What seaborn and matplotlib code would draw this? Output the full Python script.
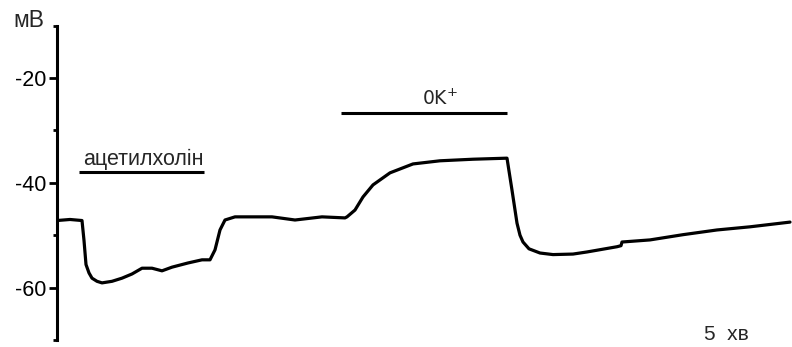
import matplotlib
matplotlib.use("Agg")
import matplotlib.pyplot as plt
import seaborn as sns
import pandas as pd
from matplotlib.ticker import MultipleLocator

# time (arbitrary units along the record) and membrane potential (mV)
time = [0, 13, 25, 27, 29, 32, 35, 40, 45, 55, 65, 75, 85, 95, 105, 115, 131,
        145, 153, 158, 163, 168, 178, 215, 238, 265, 288, 290, 298, 306, 316,
        333, 356, 383, 416, 450, 455, 460, 463, 466, 472, 483, 496, 516, 530,
        560, 564, 565, 593, 626, 660, 693, 733]
potential = [-47.2, -47.0, -47.2, -51.0, -55.6, -57.2, -58.2, -58.8, -59.1,
             -58.8, -58.2, -57.4, -56.3, -56.3, -56.8, -56.1, -55.3, -54.7,
             -54.7, -52.8, -49.0, -47.1, -46.5, -46.5, -47.1, -46.5, -46.7,
             -46.5, -45.2, -42.7, -40.4, -38.1, -36.4, -35.8, -35.5, -35.3,
             -41.4, -47.7, -50.0, -51.3, -52.6, -53.4, -53.7, -53.6, -53.2,
             -52.2, -52.0, -51.3, -50.9, -49.9, -49.0, -48.4, -47.5]

ach_label = "ацетилхолін"
ach_span = [22, 147]
ach_level = -38.0
ok_label = "0K$^{+}$"
ok_span = [284, 450]
ok_level = -26.7
y_ticks = [-20, -40, -60]

df = pd.DataFrame({"t": time, "mV": potential})

sns.set_style("ticks")
plt.rcParams["font.family"] = ["Liberation Sans", "DejaVu Sans"]
plt.rcParams["axes.unicode_minus"] = False

fig = plt.figure(figsize=(7.92, 3.47), dpi=100)
ax = fig.add_axes([57 / 792, 7 / 347, 1 - 57 / 792, (340 - 25.6) / 347])

sns.lineplot(data=df, x="t", y="mV", ax=ax, color="black", linewidth=2.3)

ax.plot(ach_span, [ach_level, ach_level], color="black", linewidth=2.2,
        solid_capstyle="butt")
ax.plot(ok_span, [ok_level, ok_level], color="black", linewidth=2.2,
        solid_capstyle="butt")
ax.text(86, -36.6, ach_label, ha="center", va="baseline", fontsize=15.5)
ax.text(383, -25.2, ok_label, ha="center", va="baseline",
        fontsize=13.5, family=["DejaVu Sans"])
ax.text(669, -70, "5  хв", ha="center", va="baseline", fontsize=15,
        clip_on=False)

ax.set_xlim(0, 735)
ax.set_ylim(-70, -10)
ax.set_yticks(y_ticks)
ax.yaxis.set_minor_locator(MultipleLocator(10))
ax.tick_params(axis="y", which="major", length=6, width=2, labelsize=15.5,
               pad=2, color="black", labelcolor="black")
ax.tick_params(axis="y", which="minor", length=3, width=2, color="black")
ax.set_xticks([])
ax.set_xlabel("")
ax.set_ylabel("")
for s in ["top", "right", "bottom"]:
    ax.spines[s].set_visible(False)
ax.spines["left"].set_linewidth(2.2)
ax.spines["left"].set_color("black")
fig.text(13 / 792, 1 - 27 / 347, "мВ", ha="left", va="baseline", fontsize=16.5)

fig.savefig("out.png", dpi=100)
